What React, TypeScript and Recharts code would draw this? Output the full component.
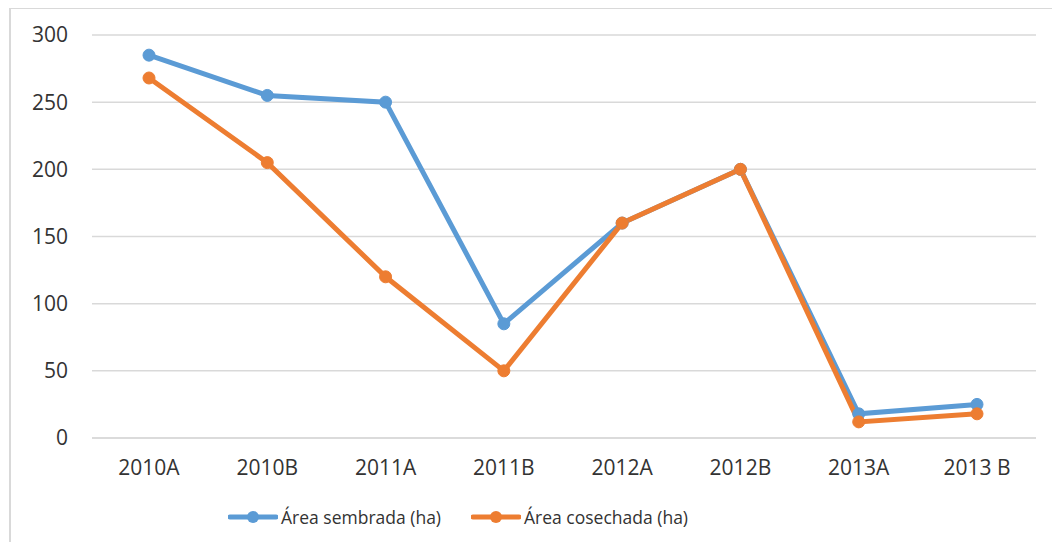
import { LineChart, Line, XAxis, YAxis, CartesianGrid, Legend } from "recharts";

const categories = ["2010A", "2010B", "2011A", "2011B", "2012A", "2012B", "2013A", "2013 B"];
const sembrada = [285, 255, 250, 85, 160, 200, 18, 25];
const cosechada = [268, 205, 120, 50, 160, 200, 12, 18];
const yTicks = [0, 50, 100, 150, 200, 250, 300];

const BLUE = "#5B9BD5";
const ORANGE = "#ED7D31";
const FONT = "'Open Sans', 'Noto Sans', sans-serif";

const data = categories.map((c, i) => ({
  name: c,
  sembrada: sembrada[i],
  cosechada: cosechada[i],
}));

const series = [
  { key: "sembrada", label: "Área sembrada (ha)", color: BLUE },
  { key: "cosechada", label: "Área cosechada (ha)", color: ORANGE },
];

function LegendContent() {
  return (
    <div style={{ display: "flex", justifyContent: "flex-start", gap: 30, fontFamily: FONT, fontSize: 17.5, color: "#333", paddingLeft: 228 }}>
      {series.map((s) => (
        <div key={s.key} style={{ display: "flex", alignItems: "center" }}>
          <svg width={50} height={14} style={{ marginRight: 3 }}>
            <line x1={2} y1={7} x2={48} y2={7} stroke={s.color} strokeWidth={5} strokeLinecap="round" />
            <circle cx={25} cy={7} r={6} fill={s.color} />
          </svg>
          <span>{s.label}</span>
        </div>
      ))}
    </div>
  );
}

export default function App() {
  return (
    <div style={{ position: "relative", width: 1060, height: 550, margin: -8, overflow: "hidden", background: "#fff" }}>
      <div
        style={{
          position: "absolute",
          left: 9,
          top: 7,
          width: 1100,
          height: 600,
          borderLeft: "2px solid #d9d9d9",
          borderTop: "2px solid #d9d9d9",
        }}
      />
      <div style={{ position: "absolute", left: 0, top: 0 }}>
        <LineChart width={1060} height={550} data={data} margin={{ top: 35, right: 24, left: 0, bottom: 58 }}>
          <CartesianGrid vertical={false} stroke="#d9d9d9" strokeWidth={1.5} />
          <XAxis
            dataKey="name"
            axisLine={{ stroke: "#d9d9d9", strokeWidth: 1.5 }}
            tickLine={false}
            tickSize={0}
            tickMargin={22}
            padding={{ left: 57, right: 59 }}
            tick={{ fill: "#333", fontSize: 21, fontFamily: FONT }}
            interval={0}
          />
          <YAxis
            width={92}
            domain={[0, 300]}
            ticks={yTicks}
            axisLine={false}
            tickLine={false}
            tickSize={0}
            tickMargin={24}
            tick={{ fill: "#333", fontSize: 21, fontFamily: FONT }}
          />
          <Legend verticalAlign="bottom" content={<LegendContent />} wrapperStyle={{ bottom: 21, left: 0, width: 1060 }} />
          {series.map((s) => (
            <Line
              key={s.key}
              type="linear"
              dataKey={s.key}
              name={s.label}
              stroke={s.color}
              strokeWidth={5}
              dot={{ r: 6, fill: s.color, stroke: s.color, strokeWidth: 1 }}
              isAnimationActive={false}
            />
          ))}
        </LineChart>
      </div>
    </div>
  );
}
